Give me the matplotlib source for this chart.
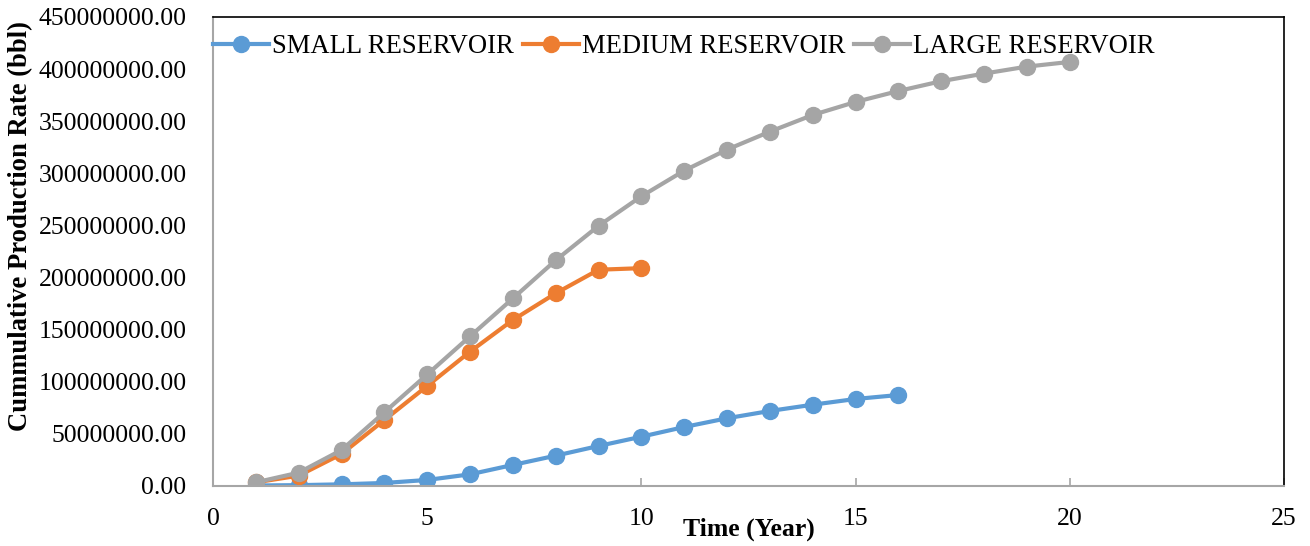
import matplotlib.pyplot as plt
from matplotlib.ticker import FormatStrFormatter

plt.rcParams['font.family'] = ['Liberation Serif', 'DejaVu Serif']

# years and cumulative production (bbl)
years_small = list(range(1, 17))
small = [0.5e6, 0.8e6, 1.6e6, 2.9e6, 5.8e6, 11.2e6, 20.2e6, 29.1e6,
         38.4e6, 47.3e6, 56.6e6, 65.0e6, 72.0e6, 78.0e6, 83.5e6, 87.3e6]

years_medium = list(range(1, 11))
medium = [3.5e6, 9.9e6, 30.7e6, 63.3e6, 96.0e6, 128.9e6, 159.3e6, 184.9e6,
          207.5e6, 209.0e6]

years_large = list(range(1, 21))
large = [3.5e6, 12.8e6, 34.5e6, 70.7e6, 107.0e6, 143.6e6, 180.0e6, 216.6e6,
         249.6e6, 278.0e6, 302.6e6, 322.8e6, 340.0e6, 356.0e6, 368.5e6,
         379.0e6, 388.4e6, 395.7e6, 402.4e6, 406.9e6]

fig = plt.figure(figsize=(13.1, 5.46), dpi=100)
ax = fig.add_axes([0.1626, 0.1099, 0.8176, 0.859])

ax.plot(years_small, small, '-o', color='#5B9BD5', lw=3, ms=11.5, label='SMALL RESERVOIR')
ax.plot(years_medium, medium, '-o', color='#ED7D31', lw=3, ms=11.5, label='MEDIUM RESERVOIR')
ax.plot(years_large, large, '-o', color='#A5A5A5', lw=3, ms=11.5, label='LARGE RESERVOIR')

ax.set_xlim(0, 25)
ax.set_ylim(0, 450000000)
ax.set_xticks(range(0, 26, 5))
ax.set_yticks(range(0, 450000001, 50000000))
ax.yaxis.set_major_formatter(FormatStrFormatter('%.2f'))

ax.tick_params(axis='x', direction='in', length=6, width=1.2, color='#A6A6A6',
               labelsize=18.5, pad=16)
ax.tick_params(axis='y', length=0, labelsize=18.5, pad=19)

for s in ['left', 'bottom']:
    ax.spines[s].set_color('#A6A6A6')
    ax.spines[s].set_linewidth(1.5)
for s in ['top', 'right']:
    ax.spines[s].set_color('black')
    ax.spines[s].set_linewidth(1.2)

ax.set_xlabel('Time (Year)', fontsize=18.5, fontweight='bold')
ax.set_ylabel('Cummulative Production Rate (bbl)', fontsize=19.2, fontweight='bold')
ax.xaxis.set_label_coords(0.5, -0.068)
ax.yaxis.set_label_coords(-0.168, 0.554)

ax.legend(loc='center left', bbox_to_anchor=(0, 0.936), ncol=3, frameon=False,
          fontsize=19.2, handlelength=2.1, handletextpad=0.1, columnspacing=0.35,
          borderpad=0, borderaxespad=0)

fig.savefig('out.png', dpi=100)
